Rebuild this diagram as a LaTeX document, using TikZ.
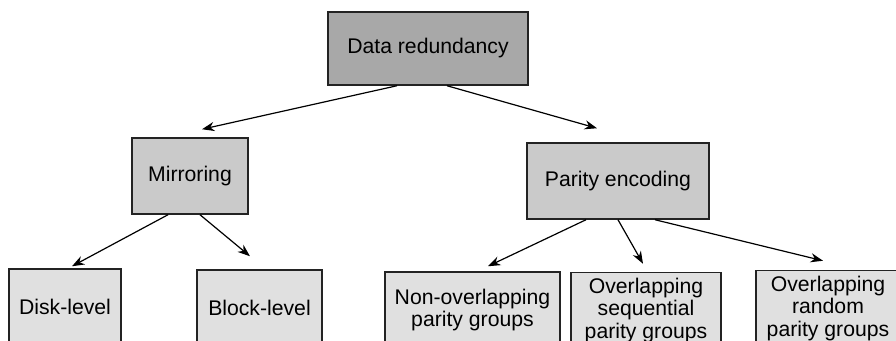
\documentclass[tikz,border=0pt]{standalone}
\usepackage{fontspec}
\setmainfont{Liberation Sans}
\usetikzlibrary{arrows.meta}
\definecolor{rootfill}{RGB}{168,168,168}
\definecolor{midfill}{RGB}{202,202,202}
\definecolor{leaffill}{RGB}{224,224,224}
\definecolor{edgeline}{RGB}{35,35,35}

\begin{document}
\begin{tikzpicture}[
  x=0.5pt, y=-0.5pt,
  >={Stealth[length=6.2pt, width=4.6pt]},
  box/.style={
    draw=edgeline, line width=0.75pt, align=center, inner sep=0pt,
    font=\fontsize{10.6}{11.3}\selectfont, minimum height=38pt
  },
  rootbox/.style={box, fill=rootfill, minimum height=36.5pt},
  midbox/.style={box, fill=midfill},
  leafbox/.style={box, fill=leaffill},
  arr/.style={->, line width=0.6pt, color=black},
]
\clip (0,0) rectangle (896,341);

% --- Top level ---
\node[rootbox, minimum width=100pt] (root) at (428,48.5) {Data redundancy};

% --- Second level ---
\node[midbox, minimum width=58pt]   (mirror) at (190,176) {Mirroring};
\node[midbox, minimum width=91pt]   (parity) at (618,181) {Parity encoding};

% --- Leaves (run off the lower edge) ---
\node[leafbox, minimum width=56pt]   (disk)   at (65,307)    {Disk-level};
\node[leafbox, minimum width=62.5pt] (block)  at (259.5,308) {Block-level};
\node[leafbox, minimum width=87.5pt] (nonover) at (472.5,310) {Non-overlapping\\parity groups};
\node[leafbox, minimum width=75pt]   (seqgrp) at (646,310.5) {Overlapping\\sequential\\parity groups};
\node[leafbox, minimum width=72pt]   (randgrp) at (828,308.5) {Overlapping\\random\\parity groups};

% --- Arrows ---
\draw[arr] ([xshift=-15.5pt]root.south) -- ([xshift=6pt,yshift=4pt]mirror.north);
\draw[arr] ([xshift=9.5pt]root.south) -- ([xshift=-10.5pt,yshift=7pt]parity.north);

\draw[arr] ([xshift=-11pt]mirror.south) -- ([xshift=3.5pt,yshift=1pt]disk.north);
\draw[arr] ([xshift=5pt]mirror.south) -- ([xshift=-4.75pt,yshift=6.5pt]block.north);

\draw[arr] ([xshift=-16pt]parity.south) -- ([xshift=7.75pt,yshift=2.5pt]nonover.north);
\draw[arr] (parity.south) -- ([xshift=-1.5pt,yshift=4pt]seqgrp.north);
\draw[arr] ([xshift=18.5pt]parity.south) -- ([xshift=-2.5pt,yshift=4.5pt]randgrp.north);

\end{tikzpicture}
\end{document}
